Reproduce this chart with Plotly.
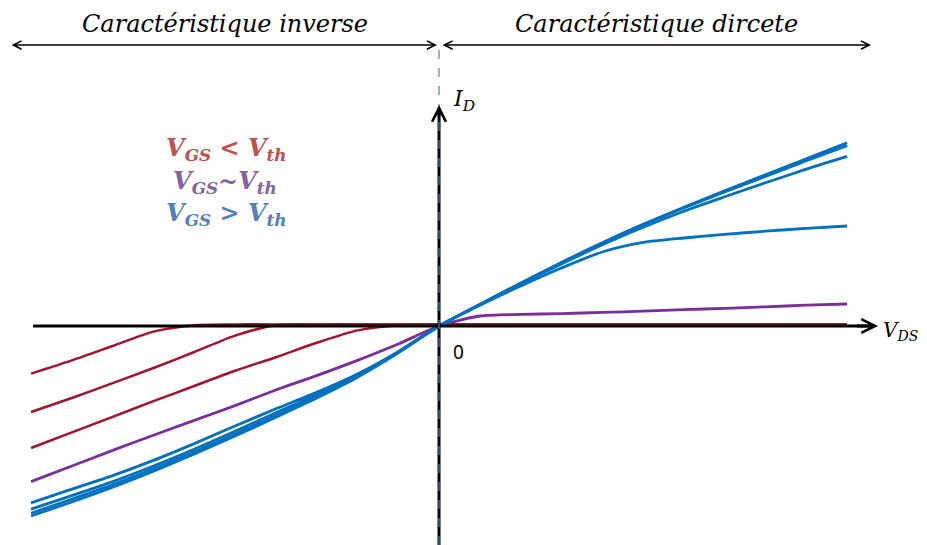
import plotly.graph_objects as go

# V_DS grid (V) shared by all curves
v_ds = [-5, -4.5, -4, -3.5, -3, -2.5, -2, -1.5, -1, -0.5, 0,
        0.5, 1, 1.5, 2, 2.5, 3, 3.5, 4, 4.5, 5]

# V_GS < V_th  (red)
id_red_1 = [-1.19, -0.86, -0.5, -0.14, 0.02, 0.04, 0.04, 0.04, 0.04, 0.04, 0.04,
            0.04, 0.04, 0.04, 0.04, 0.04, 0.04, 0.04, 0.04, 0.04, 0.04]
id_red_2 = [-2.15, -1.8, -1.43, -1.05, -0.65, -0.24, 0.02, 0.04, 0.04, 0.04, 0.04,
            0.04, 0.04, 0.04, 0.04, 0.04, 0.04, 0.04, 0.04, 0.04, 0.04]
id_red_3 = [-3.05, -2.66, -2.27, -1.88, -1.5, -1.12, -0.78, -0.42, -0.11, 0.02, 0.04,
            0.04, 0.04, 0.04, 0.04, 0.04, 0.04, 0.04, 0.04, 0.04, 0.04]

# V_GS ~ V_th  (purple)
id_purple = [-3.89, -3.5, -3.11, -2.73, -2.36, -1.99, -1.6, -1.24, -0.86, -0.45, 0,
             0.25, 0.29, 0.31, 0.34, 0.37, 0.41, 0.44, 0.48, 0.52, 0.55]

# V_GS > V_th  (blue)
id_blue_1 = [-4.75, -4.4, -4.03, -3.63, -3.2, -2.75, -2.28, -1.8, -1.28, -0.67, 0,
             0.54, 1.07, 1.59, 2.08, 2.54, 2.97, 3.38, 3.78, 4.18, 4.58]
id_blue_2 = [-4.68, -4.33, -3.97, -3.57, -3.15, -2.7, -2.24, -1.77, -1.26, -0.66, 0,
             0.54, 1.07, 1.58, 2.07, 2.53, 2.95, 3.35, 3.74, 4.13, 4.51]
id_blue_3 = [-4.58, -4.24, -3.89, -3.5, -3.08, -2.63, -2.17, -1.72, -1.23, -0.65, 0,
             0.53, 1.05, 1.55, 2.03, 2.47, 2.87, 3.23, 3.58, 3.92, 4.24]
id_blue_4 = [-4.42, -4.08, -3.74, -3.36, -2.94, -2.5, -2.07, -1.66, -1.2, -0.64, 0,
             0.52, 1.0, 1.45, 1.85, 2.09, 2.2, 2.29, 2.37, 2.44, 2.5]

red = "#A8102E"
purple = "#7B2C9E"
blue = "#0070C0"

fig = go.Figure()

for ys, col, w in [(id_red_1, red, 2.5), (id_red_2, red, 2.5), (id_red_3, red, 2.5),
                   (id_purple, purple, 2.8),
                   (id_blue_4, blue, 2.8), (id_blue_3, blue, 2.8),
                   (id_blue_2, blue, 2.8), (id_blue_1, blue, 2.8)]:
    fig.add_trace(go.Scatter(x=v_ds, y=ys, mode="lines",
                             line=dict(color=col, width=w, shape="spline", smoothing=0.7),
                             hoverinfo="skip", showlegend=False))

# page body has an 8px margin, so the figure is 8px smaller than the window
x_lo, x_hi = -5.282, 5.98
y_lo, y_hi = -5.475, 7.95

# axes drawn by hand (lines + arrow heads)
fig.add_shape(type="line", x0=-4.975, x1=5.3, y0=0, y1=0,
              line=dict(color="black", width=3), layer="above")
fig.add_shape(type="line", x0=0, x1=0, y0=y_lo, y1=5.45,
              line=dict(color="black", width=3), layer="above")
fig.add_shape(type="line", x0=0, x1=0, y0=y_lo, y1=7.0,
              line=dict(color="#4F81BD", width=1.2, dash="dash"), layer="above")

fig.add_annotation(x=5.38, y=0, ax=5.1, ay=0, xref="x", yref="y", axref="x", ayref="y",
                   text="", showarrow=True, arrowhead=5, arrowsize=0.9, arrowwidth=3,
                   arrowcolor="black")
fig.add_annotation(x=0, y=5.525, ax=0, ay=5.2, xref="x", yref="y", axref="x", ayref="y",
                   text="", showarrow=True, arrowhead=5, arrowsize=0.9, arrowwidth=3,
                   arrowcolor="black")

# top double arrows
for a, b in [(-5.257, -0.025), (0.025, 5.294)]:
    fig.add_annotation(x=b, y=7.025, ax=a, ay=7.025, xref="x", yref="y",
                       axref="x", ayref="y", text="", showarrow=True,
                       arrowhead=5, startarrowhead=5, arrowside="end+start",
                       arrowsize=1.25, startarrowsize=1.25, arrowwidth=1.3,
                       arrowcolor="black")

serif = "DejaVu Serif"
fig.add_annotation(x=-2.62, y=7.55, text="<i>Caractéristique inverse</i>",
                   showarrow=False, font=dict(family=serif, size=24, color="black"))
fig.add_annotation(x=2.67, y=7.55, text="<i>Caractéristique dircete</i>",
                   showarrow=False, font=dict(family=serif, size=24, color="black"))

fig.add_annotation(x=-2.61, y=4.42,
                   text="<b><i>V<sub>GS</sub> &lt; V<sub>th</sub></i></b>",
                   showarrow=False, font=dict(family=serif, size=24, color="#C0504D"))
fig.add_annotation(x=-2.62, y=3.6,
                   text="<b><i>V<sub>GS</sub>~V<sub>th</sub></i></b>",
                   showarrow=False, font=dict(family=serif, size=24, color="#8064A2"))
fig.add_annotation(x=-2.61, y=2.8,
                   text="<b><i>V<sub>GS</sub> &gt; V<sub>th</sub></i></b>",
                   showarrow=False, font=dict(family=serif, size=24, color="#4F81BD"))

fig.add_annotation(x=0.31, y=5.65, text="<i>I<sub>D</sub></i>",
                   showarrow=False, font=dict(family=serif, size=22, color="black"))
fig.add_annotation(x=5.66, y=-0.12, text="<i>V<sub>DS</sub></i>",
                   showarrow=False, font=dict(family=serif, size=20, color="black"))
fig.add_annotation(x=0.233, y=-0.65, text="0",
                   showarrow=False, font=dict(family="Noto Sans", size=19, color="black"))

fig.update_layout(
    width=919, height=537,
    margin=dict(l=0, r=0, t=0, b=0),
    paper_bgcolor="white", plot_bgcolor="white",
    xaxis=dict(range=[x_lo, x_hi], visible=False, fixedrange=True),
    yaxis=dict(range=[y_lo, y_hi], visible=False, fixedrange=True),
)

fig.write_html("out.html")
